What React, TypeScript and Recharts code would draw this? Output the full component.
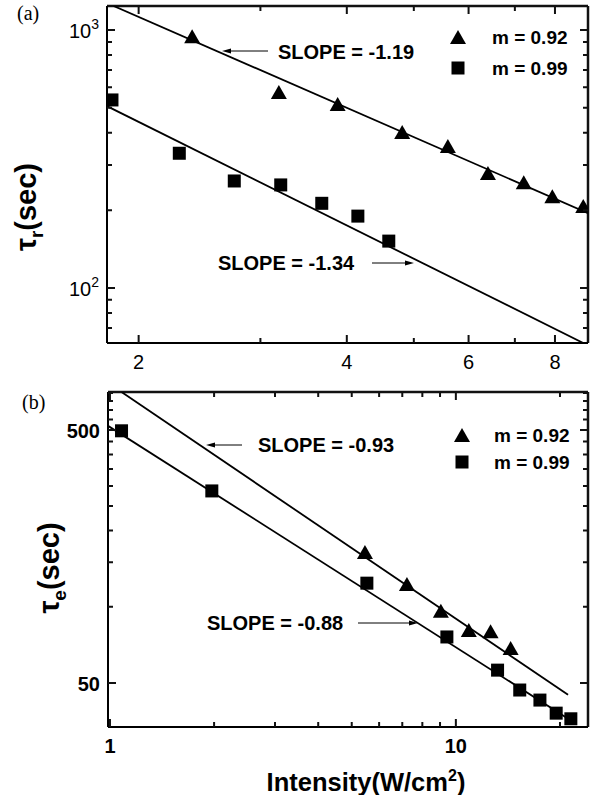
import React from 'react';
import { ScatterChart, Scatter, XAxis, YAxis, ReferenceLine } from 'recharts';

// panel (a): tau_r vs intensity
const aTriX = [2.39, 3.19, 3.88, 4.81, 5.6, 6.4, 7.21, 7.93, 8.79];
const aTriY = [939, 570, 512, 399, 352, 277, 255, 225, 206];
const aSqX = [1.83, 2.29, 2.75, 3.21, 3.68, 4.15, 4.6];
const aSqY = [536, 333, 260, 251, 213, 190, 152];
const aFitTriX = [1.84, 8.93];
const aFitTriY = [1240, 195];
const aFitSqX = [1.8, 8.79];
const aFitSqY = [507, 61.2];
const aXTicks = [2, 3, 4, 5, 6, 7, 8];
const aXMajor = [2, 4, 6, 8];
const aYTicks = [70, 80, 90, 100, 200, 300, 400, 500, 600, 700, 800, 900, 1000];
const aYMajor = [100, 1000];

// panel (b): tau_e vs intensity
const bTriX = [5.46, 7.22, 9.05, 10.9, 12.6, 14.4];
const bTriY = [163, 122, 95.5, 80.2, 79.4, 68.1];
const bSqX = [1.08, 1.97, 5.53, 9.42, 13.2, 15.3, 17.5, 19.5, 21.5];
const bSqY = [496, 287, 124, 76, 56.2, 46.9, 42.8, 38.0, 36.1];
const bFitTriX = [1.08, 21.1];
const bFitTriY = [706, 44.9];
const bFitSqX = [0.987, 21.9];
const bFitSqY = [519, 35];
const bXTicks = [1, 2, 3, 4, 5, 6, 7, 8, 9, 10, 20];
const bXMajor = [1, 10];
const bYTicks = [50, 100, 150, 200, 250, 300, 350, 400, 450, 500, 550, 600, 650, 700];
const bYMajor = [50, 500];

const FONT = '"Liberation Sans", Arial, sans-serif';
const INK = '#111';

const pts = (xs: number[], ys: number[]) => xs.map((x, i) => ({ x, y: ys[i] }));

const Triangle = (p: any) => (
  <polygon
    points={`${p.cx},${p.cy - 8} ${p.cx - 8},${p.cy + 6} ${p.cx + 8},${p.cy + 6}`}
    fill="#000"
  />
);
const Square = (p: any) => (
  <rect x={p.cx - 6.5} y={p.cy - 6.5} width={13} height={13} fill="#000" />
);
const NoDot = () => <g />;

// tick label + inward tick marks on both opposite sides of the frame
const makeTick =
  (side: 'bottom' | 'left', majors: number[], span: number, labels: Record<string, React.ReactNode>, bold: boolean) =>
  (props: any) => {
    const { x, y, payload } = props;
    const v = payload.value;
    const len = majors.includes(v) ? 8 : 5;
    const label = labels[String(v)];
    const style = { fontFamily: FONT, fontSize: 20, fontWeight: bold ? 700 : 400, fill: '#000' };
    const d =
      side === 'bottom'
        ? `M${x},${y}V${y - len}M${x},${y - span}V${y - span + len}`
        : `M${x},${y}H${x + len}M${x + span},${y}H${x + span - len}`;
    return (
      <g>
        <path d={d} stroke={INK} strokeWidth={2} fill="none" />
        {label != null && side === 'bottom' && (
          <text x={x} y={y + 26} textAnchor="middle" style={style}>
            {label}
          </text>
        )}
        {label != null && side === 'left' && (
          <text x={x - 8} y={y + 8} textAnchor="end" style={style}>
            {label}
          </text>
        )}
      </g>
    );
  };

const pow10 = (e: string) => (
  <>
    <tspan>10</tspan>
    <tspan dy={-9} fontSize={14}>
      {e}
    </tspan>
  </>
);

const axisLine = { stroke: '#000', strokeWidth: 2 };
const fitLine = { stroke: '#000', strokeWidth: 1.8 };

const Arrow = ({ x1, x2, y }: { x1: number; x2: number; y: number }) => {
  const d = x2 > x1 ? 1 : -1;
  return (
    <g>
      <line x1={x1} y1={y} x2={x2 - d * 6} y2={y} stroke="#000" strokeWidth={1} />
      <polygon points={`${x2},${y} ${x2 - d * 9},${y - 2.5} ${x2 - d * 9},${y + 2.5}`} fill="#000" />
    </g>
  );
};

const txt = (left: number, top: number, s: React.ReactNode, size = 20, extra: any = {}) => (
  <div
    style={{
      position: 'absolute',
      left,
      top,
      fontFamily: FONT,
      fontWeight: 700,
      fontSize: size,
      lineHeight: 1,
      whiteSpace: 'nowrap',
      ...extra,
    }}
  >
    {s}
  </div>
);

const W = 597;
const RIGHT = 9;

function Panel(props: {
  height: number;
  top: number;
  xAxisH: number;
  yAxisW: number;
  xDomain: [number, number];
  yDomain: [number, number];
  xTicks: number[];
  xMajor: number[];
  yTicks: number[];
  yMajor: number[];
  xLabels: Record<string, React.ReactNode>;
  yLabels: Record<string, React.ReactNode>;
  bold: boolean;
  fits: { x: number; y: number }[][];
  tri: { x: number; y: number }[];
  sq: { x: number; y: number }[];
}) {
  const plotW = W - RIGHT - props.yAxisW;
  const plotH = props.height - props.top - props.xAxisH;
  return (
    <ScatterChart width={W} height={props.height} margin={{ top: props.top, right: RIGHT, bottom: 0, left: 0 }}>
      <XAxis
        dataKey="x"
        type="number"
        scale="log"
        allowDataOverflow
        interval={0}
        tickSize={0}
        tickMargin={0}
        tickLine={false}
        axisLine={axisLine}
        domain={props.xDomain}
        ticks={props.xTicks}
        height={props.xAxisH}
        tick={makeTick('bottom', props.xMajor, plotH, props.xLabels, props.bold)}
      />
      <YAxis
        dataKey="y"
        type="number"
        scale="log"
        allowDataOverflow
        interval={0}
        tickSize={0}
        tickMargin={0}
        tickLine={false}
        axisLine={axisLine}
        domain={props.yDomain}
        ticks={props.yTicks}
        width={props.yAxisW}
        tick={makeTick('left', props.yMajor, plotW, props.yLabels, props.bold)}
      />
      {/* top and right sides of the frame */}
      <ReferenceLine x={props.xDomain[1]} stroke={INK} strokeWidth={2.5} ifOverflow="visible" />
      <ReferenceLine y={props.yDomain[1]} stroke={INK} strokeWidth={2.5} ifOverflow="visible" />
      {props.fits.map((f, i) => (
        <Scatter key={i} data={f} line={fitLine} shape={NoDot} isAnimationActive={false} />
      ))}
      <Scatter data={props.tri} shape={Triangle} isAnimationActive={false} />
      <Scatter data={props.sq} shape={Square} isAnimationActive={false} />
    </ScatterChart>
  );
}

export default function App() {
  return (
    <div style={{ position: 'absolute', left: 0, top: 0, width: 597, height: 795, background: '#fff' }}>
      <div style={{ position: 'absolute', left: 0, top: 0 }}>
        <Panel
          height={390}
          top={6}
          xAxisH={47}
          yAxisW={107}
          xDomain={[1.8, 8.93]}
          yDomain={[61.2, 1240]}
          xTicks={aXTicks}
          xMajor={aXMajor}
          yTicks={aYTicks}
          yMajor={aYMajor}
          xLabels={{ '2': '2', '4': '4', '6': '6', '8': '8' }}
          yLabels={{ '100': pow10('2'), '1000': pow10('3') }}
          bold={false}
          fits={[pts(aFitTriX, aFitTriY), pts(aFitSqX, aFitSqY)]}
          tri={pts(aTriX, aTriY)}
          sq={pts(aSqX, aSqY)}
        />
      </div>

      <div style={{ position: 'absolute', left: 0, top: 390 }}>
        <Panel
          height={405}
          top={2}
          xAxisH={68}
          yAxisW={108}
          xDomain={[0.987, 24.1]}
          yDomain={[33.5, 706]}
          xTicks={bXTicks}
          xMajor={bXMajor}
          yTicks={bYTicks}
          yMajor={bYMajor}
          xLabels={{ '1': '1', '10': '10' }}
          yLabels={{ '50': '50', '500': '500' }}
          bold={true}
          fits={[pts(bFitTriX, bFitTriY), pts(bFitSqX, bFitSqY)]}
          tri={pts(bTriX, bTriY)}
          sq={pts(bSqX, bSqY)}
        />
      </div>

      <svg width={597} height={795} style={{ position: 'absolute', left: 0, top: 0, pointerEvents: 'none' }}>
        <Arrow x1={268} x2={222} y={51} />
        <Arrow x1={372} x2={414} y={263} />
        <Arrow x1={242} x2={206} y={445} />
        <Arrow x1={358} x2={418} y={623} />
        <Triangle cx={458} cy={38} />
        <Square cx={458} cy={68} />
        <Triangle cx={462} cy={436} />
        <Square cx={462} cy={462} />
      </svg>

      {txt(17, 3, '(a)', 20, { fontFamily: '"Liberation Serif", "Times New Roman", serif', fontWeight: 400 })}
      {txt(22, 392, '(b)', 20, { fontFamily: '"Liberation Serif", "Times New Roman", serif', fontWeight: 400 })}

      {txt(278, 42, 'SLOPE = -1.19')}
      {txt(218, 253, 'SLOPE = -1.34')}
      {txt(258, 435, 'SLOPE = -0.93')}
      {txt(207, 613, 'SLOPE = -0.88')}

      {txt(492, 28, 'm = 0.92', 19)}
      {txt(492, 59, 'm = 0.99', 19)}
      {txt(494, 426, 'm = 0.92', 19)}
      {txt(494, 453, 'm = 0.99', 19)}

      {txt(29, 207, <>τ<sub style={{ fontSize: 19 }}>r</sub>(sec)</>, 29, {
        transform: 'translate(-50%, -50%) rotate(-90deg)',
      })}
      {txt(52, 568, <>τ<sub style={{ fontSize: 19 }}>e</sub>(sec)</>, 29, {
        transform: 'translate(-50%, -50%) rotate(-90deg)',
      })}
      {txt(366, 768, <>Intensity(W/cm<sup style={{ fontSize: 16 }}>2</sup>)</>, 25.5, {
        transform: 'translateX(-50%)',
      })}
    </div>
  );
}
